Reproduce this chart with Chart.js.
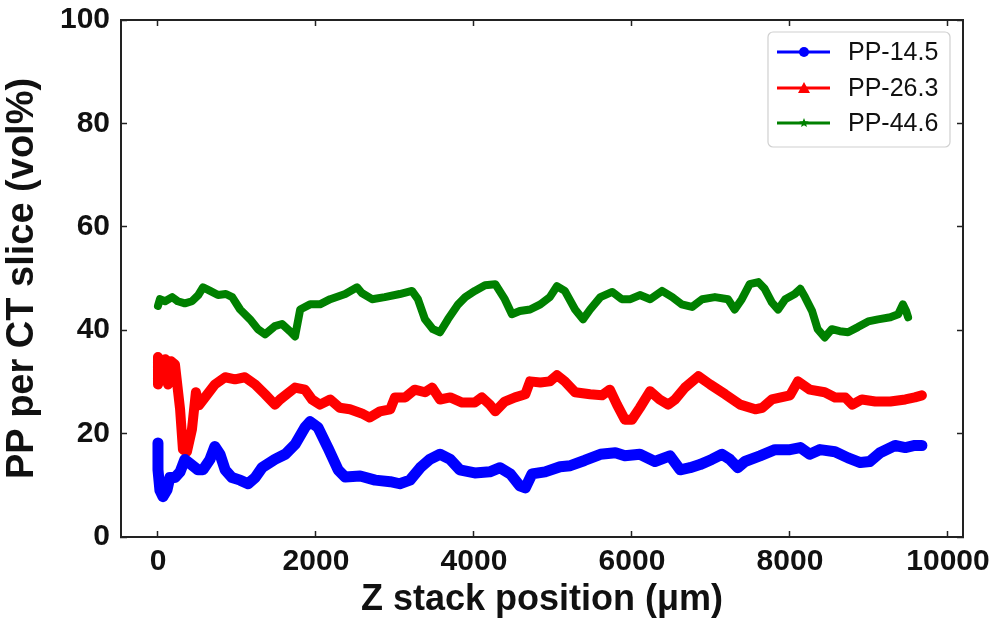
<!DOCTYPE html>
<html>
<head>
  <title>PP per CT slice</title>
  <script src="https://cdn.jsdelivr.net/npm/chart.js"></script>
  <style>
    body { margin: 0; background: #ffffff; }
    #wrap { width: 998px; height: 626px; }
  </style>
</head>
<body>
  <div id="wrap"><canvas id="ppChart"></canvas></div>
  <script>
    // values (Z position in um, PP in vol%)
    const seriesLabels = ['PP-14.5', 'PP-26.3', 'PP-44.6'];
    const xTicks = [0, 2000, 4000, 6000, 8000, 10000];
    const yTicks = [0, 20, 40, 60, 80, 100];

    const z145 = [0,0,25,63,114,150,215,280,340,405,506,570,658,720,785,850,937,1040,1140,1230,1317,1480,1610,1735,1860,1925,2025,2150,2280,2370,2560,2750,2940,3060,3190,3320,3440,3570,3700,3820,4010,4200,4330,4460,4580,4650,4735,4900,5090,5220,5400,5600,5790,5910,6100,6290,6480,6610,6735,6860,7010,7140,7240,7340,7430,7620,7810,8000,8130,8250,8380,8570,8735,8890,9010,9140,9330,9460,9580,9670];
    const pp145 = [18.2,13,9,7.8,9.1,11.5,11.5,12.6,15,14.2,13,13,15,17.5,16,13,11.5,11,10.3,11.5,13.4,15,16,17.9,21.2,22.3,21.2,17.3,13,11.6,11.8,11,10.7,10.3,11,13.4,15,16,15,13,12.4,12.6,13.4,12.2,9.9,9.5,12.2,12.6,13.6,13.8,14.8,16,16.3,15.7,16,14.6,15.7,13,13.4,14,15,16,15,13.4,14.6,15.7,16.9,16.9,17.3,16,16.9,16.5,15.3,14.4,14.6,16.3,17.7,17.3,17.7,17.7];

    const z263 = [0,0,50,90,127,165,215,280,316,367,430,480,520,595,720,850,975,1100,1230,1355,1480,1545,1735,1860,1950,2050,2180,2300,2430,2580,2680,2810,2940,3000,3130,3250,3380,3470,3570,3700,3850,4010,4100,4200,4270,4390,4520,4650,4710,4840,4960,5050,5150,5280,5470,5620,5720,5810,5910,6000,6100,6230,6350,6460,6545,6670,6840,6990,7180,7370,7560,7650,7770,8000,8100,8250,8440,8570,8700,8790,8910,9080,9270,9460,9580,9670];
    const pp263 = [34.8,29.5,31.5,34.4,29.5,34,33.4,24.7,16.9,16.5,20.8,28,25.5,27,29.5,30.9,30.5,30.9,29.5,27.6,25.6,26.6,28.9,28.5,26.6,25.6,26.6,25,24.7,23.9,23.1,24.3,24.7,27,27,28.5,28,28.9,26.6,27,26,26,27,25.6,24.3,26.2,27,27.6,30.1,29.9,30.1,31.3,30.1,28,27.6,27.4,28.5,25.6,22.7,22.7,25,28.2,26.6,25.6,26.6,28.9,31.1,29.5,27.6,25.6,24.7,25,26.6,27.4,30.1,28.5,28,27,27,25.6,26.6,26.2,26.2,26.6,27,27.4];

    const z446 = [0,25,90,180,250,340,430,510,570,660,760,860,940,1040,1165,1266,1355,1480,1570,1670,1735,1800,1925,2050,2180,2370,2520,2580,2710,2870,3060,3215,3290,3380,3480,3570,3670,3800,3890,4010,4140,4270,4390,4480,4580,4710,4840,4960,5050,5150,5280,5380,5470,5600,5750,5870,5980,6100,6230,6380,6510,6630,6760,6890,7050,7215,7300,7390,7490,7600,7680,7770,7850,7940,8060,8130,8190,8280,8350,8440,8530,8630,8735,8860,8990,9115,9270,9370,9430,9470,9495];
    const pp446 = [44.7,46,45.6,46.4,45.6,45.2,45.6,46.8,48.3,47.6,46.8,47,46.4,44,42.1,40.2,39.2,40.8,41.2,39.8,38.8,44,45,45,46,47,48.3,47.2,46,46.4,47,47.6,46,42.1,40.2,39.6,42.1,45,46.4,47.6,48.7,48.9,46,43.1,43.7,44,45,46.4,48.5,47.6,44,42.1,44,46.4,47.4,46,46,46.8,46,47.6,46.4,45,44.5,46,46.4,46,44,46,48.9,49.3,48,45.4,44,46,47,48,46.4,43.7,40.2,38.6,40.2,39.8,39.6,40.6,41.7,42.1,42.5,43.1,45,43.7,42.5];

    const colors = ['#0000ff', '#ff0000', '#008000'];
    const markers = ['circle', 'triangle', 'star'];
    const FONT = '"Liberation Sans", Arial, Helvetica, sans-serif';

    function toPoints(xs, ys) {
      return xs.map((x, i) => ({x: x, y: ys[i]}));
    }

    function drawMarker(ctx, style, x, y) {
      ctx.beginPath();
      if (style === 'circle') {
        ctx.arc(x, y, 5, 0, Math.PI * 2);
      } else if (style === 'triangle') {
        ctx.moveTo(x, y - 6);
        ctx.lineTo(x + 6, y + 5);
        ctx.lineTo(x - 6, y + 5);
        ctx.closePath();
      } else {
        for (let i = 0; i < 10; i++) {
          const r = i % 2 === 0 ? 5 : 2.2;
          const a = -Math.PI / 2 + i * Math.PI / 5;
          ctx.lineTo(x + r * Math.cos(a), y + r * Math.sin(a));
        }
        ctx.closePath();
      }
      ctx.fill();
    }

    // legend box inside the plot, top right (matplotlib style)
    const boxLegend = {
      id: 'boxLegend',
      afterDraw(chart) {
        const ctx = chart.ctx;
        const x0 = 768, y0 = 32, w = 182, h = 115, rows = [52, 88, 123];
        ctx.save();
        ctx.fillStyle = 'rgba(255,255,255,0.9)';
        ctx.strokeStyle = '#d0d0d0';
        ctx.lineWidth = 1.2;
        ctx.beginPath();
        ctx.roundRect(x0, y0, w, h, 5);
        ctx.fill();
        ctx.stroke();
        ctx.font = '25px ' + FONT;
        ctx.textBaseline = 'middle';
        chart.data.datasets.forEach((ds, i) => {
          const y = rows[i];
          ctx.strokeStyle = ds.borderColor;
          ctx.lineWidth = 3;
          ctx.beginPath();
          ctx.moveTo(777, y);
          ctx.lineTo(830, y);
          ctx.stroke();
          ctx.fillStyle = ds.borderColor;
          drawMarker(ctx, markers[i], 804, y);
          ctx.fillStyle = '#111';
          ctx.fillText(ds.label, 848, y + 1);
        });
        ctx.restore();
      }
    };

    const setTicks = list => scale => { scale.ticks = list.map(v => ({value: v})); };
    // fixed box sizes so the plot area lands where the figure has it
    const fixSize = (w, h) => s => {
      if (w !== null) s.width = w;
      if (h !== null) s.height = h;
      s.paddingLeft = 0; s.paddingRight = 0; s.paddingTop = 0; s.paddingBottom = 0;
    };
    const plain = v => String(v);

    new Chart(document.getElementById('ppChart'), {
      type: 'line',
      data: {
        datasets: [
          {label: seriesLabels[0], data: toPoints(z145, pp145), borderColor: colors[0], borderWidth: 11},
          {label: seriesLabels[1], data: toPoints(z263, pp263), borderColor: colors[1], borderWidth: 10},
          {label: seriesLabels[2], data: toPoints(z446, pp446), borderColor: colors[2], borderWidth: 8}
        ]
      },
      options: {
        responsive: true,
        maintainAspectRatio: false,
        animation: false,
        layout: { padding: 0 },
        elements: {
          line: { tension: 0, fill: false, borderJoinStyle: 'round', borderCapStyle: 'round' },
          point: { radius: 0, hoverRadius: 0 }
        },
        plugins: {
          legend: { display: false },
          tooltip: { enabled: false }
        },
        scales: {
          x: {
            type: 'linear',
            position: 'bottom',
            min: -468,
            max: 10190,
            afterBuildTicks: setTicks(xTicks),
            afterFit: fixSize(null, 89),
            grid: { drawOnChartArea: false, tickLength: -6, tickWidth: 1.5, tickColor: '#222' },
            border: { color: '#222', width: 2 },
            ticks: { color: '#111', padding: 13, maxRotation: 0, callback: plain, font: { family: FONT, size: 30, weight: 'bold' } },
            title: {
              display: true,
              text: 'Z stack position (μm)',
              color: '#111',
              padding: { top: 0, bottom: 4 },
              font: { family: FONT, size: 36, weight: 'bold' }
            }
          },
          x2: {
            type: 'linear',
            position: 'top',
            min: -468,
            max: 10190,
            afterBuildTicks: setTicks(xTicks),
            afterFit: fixSize(null, 20),
            grid: { drawOnChartArea: false, tickLength: -6, tickWidth: 1.5, tickColor: '#222' },
            border: { color: '#222', width: 2 },
            ticks: { display: false }
          },
          y: {
            type: 'linear',
            position: 'left',
            min: 0,
            max: 100,
            afterBuildTicks: setTicks(yTicks),
            afterFit: fixSize(121, null),
            grid: { drawOnChartArea: false, tickLength: -6, tickWidth: 1.5, tickColor: '#222' },
            border: { color: '#222', width: 2 },
            ticks: { color: '#111', padding: 17, callback: plain, font: { family: FONT, size: 30, weight: 'bold' } },
            title: {
              display: true,
              text: 'PP per CT slice (vol%)',
              color: '#111',
              padding: { top: 0, bottom: 0 },
              font: { family: FONT, size: 38, weight: 'bold' }
            }
          },
          y2: {
            type: 'linear',
            position: 'right',
            min: 0,
            max: 100,
            afterBuildTicks: setTicks(yTicks),
            afterFit: fixSize(35, null),
            grid: { drawOnChartArea: false, tickLength: -6, tickWidth: 1.5, tickColor: '#222' },
            border: { color: '#222', width: 2 },
            ticks: { display: false }
          }
        }
      },
      plugins: [boxLegend]
    });
  </script>
</body>
</html>
